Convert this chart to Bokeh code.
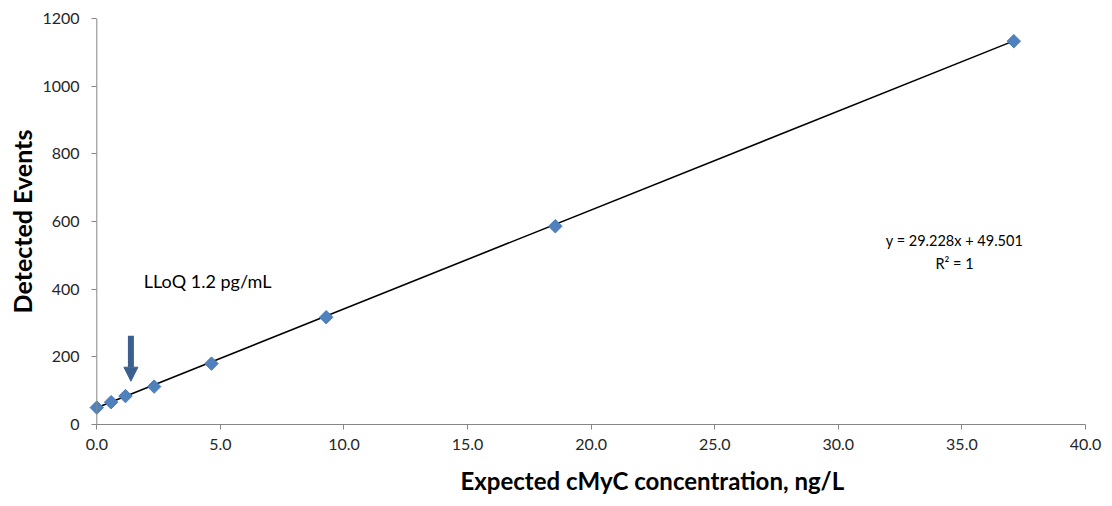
from bokeh.plotting import figure
from bokeh.models import Range1d, Arrow, NormalHead, Label, FixedTicker, Title, Span
from bokeh.embed import file_html
from bokeh.resources import INLINE
import math

# Calibration series: expected concentration (ng/L) vs detected events
concentration = [0.0, 0.58, 1.16, 2.32, 4.64, 9.28, 18.55, 37.1]
events = [50, 66, 84, 112, 180, 317, 586, 1133]

# Linear fit reported on the chart
slope = 29.228
intercept = 49.501
fit_x = [0.0, 37.1]
fit_y = [intercept + slope * v for v in fit_x]

x_ticks = [0, 5, 10, 15, 20, 25, 30, 35, 40]
y_ticks = [0, 200, 400, 600, 800, 1000, 1200]

FONT = "Lato"
AXIS_GREY = "#868686"
X_PAD = 0.7  # room left of zero so the first marker is not cut by the frame
PX_PER_UNIT = 989 / 40

p = figure(width=1112, height=506, output_backend="svg", toolbar_location=None,
           x_range=Range1d(-X_PAD, 40), y_range=Range1d(0, 1200),
           min_border_left=79, min_border_right=27, min_border_top=18, min_border_bottom=81)
p.outline_line_color = None
p.xgrid.visible = False
p.ygrid.visible = False
p.background_fill_color = "white"
p.border_fill_color = "white"

for ax in (p.xaxis, p.yaxis):
    ax.axis_line_color = AXIS_GREY
    ax.major_tick_line_color = AXIS_GREY
    ax.minor_tick_line_color = None
    ax.major_label_text_font = FONT
    ax.major_label_text_font_size = "16px"
    ax.major_label_text_color = "#262626"

p.xaxis.ticker = FixedTicker(ticks=x_ticks)
p.xaxis.bounds = (0, 40)
p.xaxis.major_tick_in = 0
p.xaxis.major_tick_out = 5
p.xaxis.major_label_overrides = {t: f"{t:.1f}" for t in x_ticks}
p.xaxis.major_label_standoff = 9

# value axis sits on x = 0: its line is a span there, ticks shifted onto it
pad_px = X_PAD * PX_PER_UNIT
p.yaxis.ticker = FixedTicker(ticks=y_ticks)
p.yaxis.axis_line_color = None
p.yaxis.major_tick_in = round(pad_px)
p.yaxis.major_tick_out = -round(pad_px - 5)
p.yaxis.major_label_standoff = 0
p.add_layout(Span(location=0, dimension="height", line_color=AXIS_GREY, line_width=1))

p.add_layout(Title(text="Expected cMyC concentration, ng/L", text_font=FONT,
                   text_font_style="bold", text_font_size="24px", text_color="black",
                   align="left", offset=381, standoff=23), "below")
p.add_layout(Title(text="Detected Events", text_font=FONT, text_font_style="bold",
                   text_font_size="25px", text_color="black", align="center",
                   standoff=5), "left")

# Trend line and measured points
p.line(fit_x, fit_y, line_color="black", line_width=1.6)
p.scatter(concentration, events, marker="square", angle=math.pi / 4, size=9.5,
          fill_color="#4F81BD", line_color="#4A7CB8", line_width=1)

# Lower limit of quantification marker
p.add_layout(Arrow(end=NormalHead(size=14, fill_color="#3D5F8E", line_color="#3D5F8E"),
                   x_start=1.38, y_start=262, x_end=1.38, y_end=128,
                   line_color="#3D5F8E", line_width=6))
p.add_layout(Label(x=1.9, y=425, text="LLoQ 1.2 pg/mL", text_font=FONT,
                   text_font_size="18px", text_baseline="middle", text_color="black"))

# Fit equation
p.add_layout(Label(x=34.7, y=545, text=f"y = {slope}x + {intercept}", text_font=FONT,
                   text_font_size="14.5px", text_align="center", text_baseline="middle",
                   text_color="black"))
p.add_layout(Label(x=34.7, y=477, text="R² = 1", text_font=FONT,
                   text_font_size="14.5px", text_align="center", text_baseline="middle",
                   text_color="black"))

open("out.html", "w").write(file_html(p, INLINE))
